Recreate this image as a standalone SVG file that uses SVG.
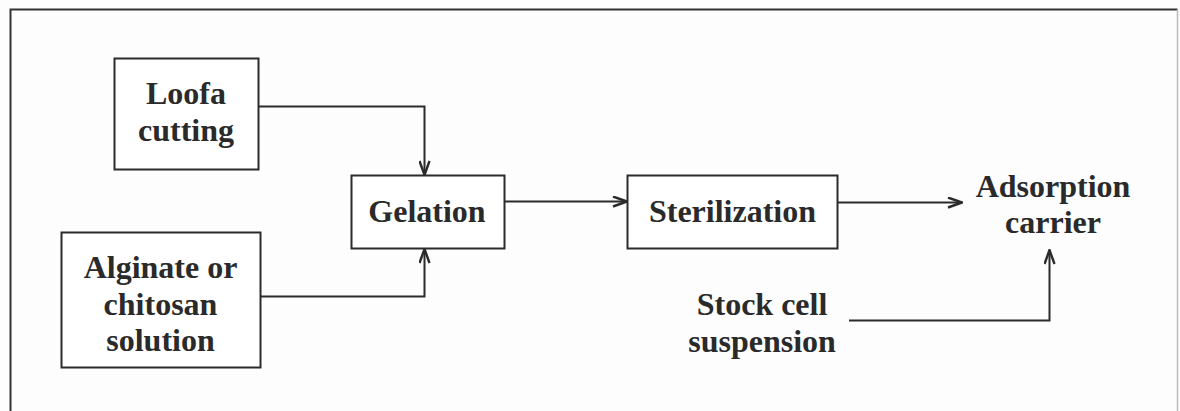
<svg xmlns="http://www.w3.org/2000/svg" width="1180" height="411" viewBox="0 0 1180 411">
<defs>
<style>
.box{fill:#fff;stroke:#2b2b2b;stroke-width:2}
.t{font-family:"Liberation Serif","Times New Roman",serif;font-weight:bold;font-size:32px;fill:#2a2a2a;text-anchor:middle}
.c{fill:none;stroke:#2b2b2b;stroke-width:2}
</style>
<marker id="ah" viewBox="0 0 16 12" refX="15" refY="6" markerWidth="16" markerHeight="12" markerUnits="userSpaceOnUse" orient="auto">
<path d="M1,1 L15,6 L1,11" fill="none" stroke="#2b2b2b" stroke-width="2.4"/>
</marker>
</defs>
<rect width="1180" height="411" fill="#fdfdfd"/>
<path d="M10.5,420 V9.5 H1177.5" fill="none" stroke="#333" stroke-width="2"/>
<path d="M1177.5,9.5 V420" fill="none" stroke="#bbb" stroke-width="1.5"/>
<g id="connectors">
<path class="c" d="M258,106.5 H424.5 V175" marker-end="url(#ah)"/>
<path class="c" d="M260,296.5 H424.5 V249" marker-end="url(#ah)"/>
<path class="c" d="M504,201.5 H627" marker-end="url(#ah)"/>
<path class="c" d="M838,202.5 H962" marker-end="url(#ah)"/>
<path class="c" d="M849,320.5 H1049.5 V250" marker-end="url(#ah)"/>
</g>
<g id="loofa">
<rect class="box" x="114.5" y="58.5" width="144" height="111"/>
<text class="t" x="186" y="104">Loofa</text>
<text class="t" x="186" y="141">cutting</text>
</g>
<g id="alginate">
<rect class="box" x="61.5" y="232.5" width="199" height="135"/>
<text class="t" x="160.5" y="278">Alginate or</text>
<text class="t" x="160.5" y="315">chitosan</text>
<text class="t" x="160.5" y="351">solution</text>
</g>
<g id="gelation">
<rect class="box" x="351.5" y="175.5" width="153" height="73"/>
<text class="t" x="427" y="222">Gelation</text>
</g>
<g id="sterilization">
<rect class="box" x="627.5" y="175.5" width="210" height="73"/>
<text class="t" x="732.5" y="222">Sterilization</text>
</g>
<g id="adsorption">
<text class="t" x="1053" y="197">Adsorption</text>
<text class="t" x="1053" y="233">carrier</text>
</g>
<g id="stock">
<text class="t" x="762" y="315">Stock cell</text>
<text class="t" x="762" y="352">suspension</text>
</g>
</svg>
